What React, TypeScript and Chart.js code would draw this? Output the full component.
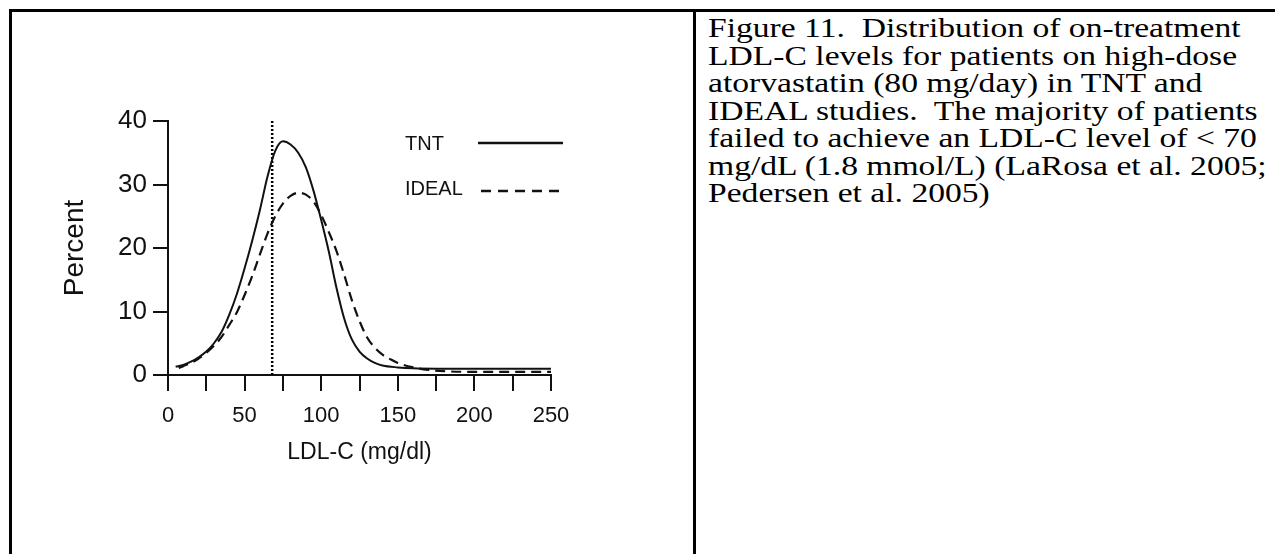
import React, { useEffect, useRef } from "react";
import { Chart, registerables } from "chart.js";

Chart.register(...registerables);

// ---- data ----
const tntX = [5, 10, 15, 20, 25, 30, 35, 40, 45, 50, 55, 60, 65, 70, 75, 80, 85, 90, 95, 100, 105, 110, 115, 120, 125, 130, 135, 140, 150, 160, 175, 200, 225, 250];
const tntY = [1.3, 1.6, 2.1, 2.8, 3.7, 5.0, 6.8, 9.5, 12.8, 16.8, 21.2, 26.0, 31.3, 35.3, 36.8, 36.3, 35.0, 32.7, 29.0, 24.4, 19.4, 13.7, 8.9, 5.6, 3.7, 2.6, 1.9, 1.5, 1.2, 1.05, 1.0, 1.0, 1.0, 1.0];

const idealX = [7, 10, 15, 20, 25, 30, 35, 40, 45, 50, 55, 60, 65, 70, 75, 80, 85, 90, 95, 100, 105, 110, 115, 120, 125, 130, 135, 140, 145, 150, 160, 170, 180, 200, 225, 250];
const idealY = [1.1, 1.4, 1.9, 2.6, 3.5, 4.6, 6.0, 7.9, 9.9, 12.6, 15.6, 19.0, 22.3, 25.0, 27.0, 28.2, 28.7, 28.4, 27.3, 25.2, 22.5, 19.5, 15.8, 11.8, 8.5, 5.9, 4.3, 3.2, 2.5, 1.9, 1.2, 0.8, 0.6, 0.5, 0.5, 0.5];

const cutoffX = [68, 68];
const cutoffY = [0, 40];

const seriesNames = ["TNT", "IDEAL"];
const xTickLabels = [0, 50, 100, 150, 200, 250];
const yTickValues = [0, 10, 20, 30, 40];
const xTitle = "LDL-C (mg/dl)";
const yTitle = "Percent";

const captionLines = [
  "Figure 11.  Distribution of on-treatment",
  "LDL-C levels for patients on high-dose",
  "atorvastatin (80 mg/day) in TNT and",
  "IDEAL studies.  The majority of patients",
  "failed to achieve an LDL-C level of < 70",
  "mg/dL (1.8 mmol/L) (LaRosa et al. 2005;",
  "Pedersen et al. 2005)",
];

const toPoints = (xs: number[], ys: number[]) => xs.map((x, i) => ({ x, y: ys[i] }));

const INK = "#111";
const SANS = '"Liberation Sans", Arial, sans-serif';

const legendPlugin = {
  id: "manualLegend",
  afterDraw(chart: any) {
    const ctx = chart.ctx;
    ctx.save();
    ctx.fillStyle = INK;
    ctx.strokeStyle = INK;
    ctx.font = `20px ${SANS}`;
    ctx.textBaseline = "middle";
    ctx.textAlign = "left";
    ctx.fillText(seriesNames[0], 405, 144);
    ctx.lineWidth = 2.5;
    ctx.setLineDash([]);
    ctx.beginPath();
    ctx.moveTo(478, 143);
    ctx.lineTo(563, 143);
    ctx.stroke();
    ctx.fillText(seriesNames[1], 405, 189);
    ctx.setLineDash([10, 7]);
    ctx.beginPath();
    ctx.moveTo(481, 191);
    ctx.lineTo(566, 191);
    ctx.stroke();
    ctx.restore();
  },
};

function LdlChart() {
  const ref = useRef<HTMLCanvasElement | null>(null);
  useEffect(() => {
    if (!ref.current) return;
    const chart = new Chart(ref.current, {
      type: "line",
      data: {
        datasets: [
          {
            label: seriesNames[0],
            data: toPoints(tntX, tntY),
            borderColor: INK,
            borderWidth: 2,
            pointRadius: 0,
            cubicInterpolationMode: "monotone",
            fill: false,
          },
          {
            label: seriesNames[1],
            data: toPoints(idealX, idealY),
            borderColor: INK,
            borderWidth: 2.2,
            borderDash: [10, 6],
            pointRadius: 0,
            cubicInterpolationMode: "monotone",
            fill: false,
          },
          {
            label: "cutoff",
            data: toPoints(cutoffX, cutoffY),
            borderColor: "#000",
            borderWidth: 2.5,
            borderDash: [2, 2],
            pointRadius: 0,
            tension: 0,
            fill: false,
          },
        ],
      },
      options: {
        responsive: false,
        animation: false,
        devicePixelRatio: 1,
        layout: { padding: { left: 58, right: 139, top: 121, bottom: 88 } },
        plugins: { legend: { display: false }, tooltip: { enabled: false }, title: { display: false } },
        scales: {
          x: {
            type: "linear",
            min: 0,
            max: 250,
            afterFit: (s: any) => { s.height = 91; },
            border: { display: true, color: INK, width: 2 },
            grid: { drawOnChartArea: false, drawTicks: true, tickLength: 16, color: INK, lineWidth: 2 },
            ticks: {
              stepSize: 25,
              padding: 12,
              color: INK,
              font: { family: SANS, size: 22 },
              maxRotation: 0,
              autoSkip: false,
              callback: (v: any) => (xTickLabels.includes(Number(v)) ? String(v) : ""),
            },
            title: { display: true, text: xTitle, color: INK, font: { family: SANS, size: 23 }, padding: { top: 0, bottom: 0 } },
          },
          y: {
            type: "linear",
            min: 0,
            max: 40,
            afterFit: (s: any) => { s.width = 110; },
            border: { display: true, color: INK, width: 2 },
            grid: { drawOnChartArea: false, drawTicks: true, tickLength: 15, color: INK, lineWidth: 2 },
            afterBuildTicks: (s: any) => { s.ticks = yTickValues.map((v) => ({ value: v })); },
            ticks: {
              padding: 6,
              color: INK,
              font: { family: SANS, size: 26 },
            },
            title: { display: true, text: yTitle, color: INK, font: { family: SANS, size: 28 }, padding: { top: 0, bottom: 0 } },
          },
        },
      },
      plugins: [legendPlugin],
    } as any);
    return () => chart.destroy();
  }, []);
  return (
    <canvas
      ref={ref}
      width={690}
      height={554}
      style={{ position: "absolute", left: 0, top: 0, width: 690, height: 554 }}
    />
  );
}

export default function App() {
  return (
    <div style={{ position: "absolute", left: 0, top: 0, width: 1275, height: 554, overflow: "hidden", background: "#fff" }}>
      <LdlChart />
      <div style={{ position: "absolute", left: 9, top: 9, width: 1266, height: 3, background: "#000" }} />
      <div style={{ position: "absolute", left: 9, top: 9, width: 3, height: 545, background: "#000" }} />
      <div style={{ position: "absolute", left: 693, top: 9, width: 3, height: 545, background: "#000" }} />
      <div
        style={{
          position: "absolute",
          left: 708,
          top: 14,
          fontFamily: '"Liberation Serif", "Times New Roman", serif',
          fontSize: 28,
          lineHeight: "27.5px",
          color: "#000",
          whiteSpace: "pre",
          transform: "scaleX(1.2)",
          transformOrigin: "0 0",
        }}
      >
        {captionLines.map((l, i) => (
          <div key={i}>{l}</div>
        ))}
      </div>
    </div>
  );
}
